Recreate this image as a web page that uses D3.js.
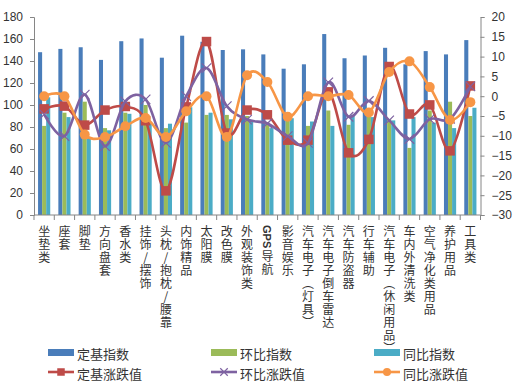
<!DOCTYPE html>
<html>
<head>
<meta charset="utf-8">
<script src="https://cdn.jsdelivr.net/npm/d3@7"></script>
<style>
  body { margin: 0; background: #fff; }
  #chart { width: 514px; height: 383px; }
  text { font-family: "Noto Sans CJK SC", "Liberation Sans", sans-serif; fill: #333; }
</style>
</head>
<body>
<div id="chart"></div>
<script>
const categories = ["坐垫类","座套","脚垫","方向盘套","香水类","挂饰/摆饰","头枕/抱枕/腰靠","内饰精品","太阳膜","改色膜","外观装饰类","GPS导航","影音娱乐","汽车电子（灯具）","汽车电子倒车雷达","汽车防盗器","行车辅助","汽车电子（休闲用品）","车内外清洗类","空气净化类用品","养护用品","工具类"];

// bars, left axis
const baseIndex = [148,151,152.5,141,158,160.5,143,163,157.5,150,150.6,146,133,137,164.5,142.5,145,152,137,149,146,159];
const momIndex  = [81,93,103,79,93,100,79,84,91,91,90,84,86,81,95,82,93,87,61,95,103,90];
const yoyIndex  = [107,89,70,77,92,85,83,98,93,87,86,79,88,85,81,91,89,86,89,84,79,97.5];

// lines, right axis
const baseChange = [-3.2,-2.5,-7.3,-3.5,-2.6,-6.2,-23.9,-2.7,13.8,-9.3,-3.5,-4.7,-11.1,-11.1,1.1,-14.3,-10.9,7.5,-4.5,-2.2,-13.8,2.6];
const momChange  = [-4.6,-10.1,0.4,-12.6,-1.3,-0.8,-11.8,0,7.1,-2.5,-5.9,-6.9,-10.1,-11.8,3.5,-5.2,-1.2,-6.1,-10.8,-5.8,-5.7,2.5];
const yoyChange  = [0,0,-9.7,-10.3,-7.6,-5.5,-10.3,-3.8,0,-10.3,5.3,3.6,-5.2,0,0,0.3,-4.1,6.1,8.8,2.3,-6,-1.5];

const leftTicks = [0,20,40,60,80,100,120,140,160,180];
const rightTicks = [-30,-25,-20,-15,-10,-5,0,5,10,15,20];

const barNames = ["定基指数","环比指数","同比指数"];
const lineNames = ["定基涨跌值","环比涨跌值","同比涨跌值"];
const barColors = ["#4A7DBA","#9BBB59","#4BACC6"];
const lineColors = ["#BE4B48","#7E62A1","#F79646"];

const W = 514, H = 383;
const plotLeft = 34, plotRight = 480.5, plotTop = 17, plotBottom = 215;

const svg = d3.select("#chart").append("svg")
  .attr("width", W).attr("height", H);

const x = d3.scaleBand().domain(categories).range([plotLeft, plotRight]).paddingInner(0).paddingOuter(0);
const xs = d3.scaleBand().domain([0,1,2]).range([0, x.bandwidth()]).paddingInner(0).paddingOuter(1);
const yL = d3.scaleLinear().domain([0,180]).range([plotBottom, plotTop]);
const yR = d3.scaleLinear().domain([-30,20]).range([plotBottom, plotTop]);

// bars
const barSeries = [baseIndex, momIndex, yoyIndex];
barSeries.forEach((vals, s) => {
  svg.append("g").selectAll("rect")
    .data(vals)
    .enter().append("rect")
    .attr("x", (d, i) => x(categories[i]) + xs(s))
    .attr("y", d => yL(d))
    .attr("width", xs.bandwidth())
    .attr("height", d => plotBottom - yL(d))
    .attr("fill", barColors[s]);
});

// axes
const axL = svg.append("g")
  .attr("transform", `translate(${plotLeft},0)`)
  .call(d3.axisLeft(yL).tickValues(leftTicks).tickSize(4).tickPadding(7));
const axR = svg.append("g")
  .attr("transform", `translate(${plotRight},0)`)
  .call(d3.axisRight(yR).tickValues(rightTicks).tickSize(4).tickPadding(7));
[axL, axR].forEach(g => {
  g.select(".domain").attr("stroke", "#868686");
  g.selectAll(".tick line").attr("stroke", "#868686");
  g.selectAll(".tick text")
    .style("font-family", "'Liberation Sans', sans-serif")
    .style("font-size", "12px").attr("fill", "#333");
});

// bottom axis
svg.append("line")
  .attr("x1", plotLeft).attr("x2", plotRight)
  .attr("y1", plotBottom).attr("y2", plotBottom)
  .attr("stroke", "#868686");
const bounds = categories.map(c => x(c)).concat([plotRight]);
svg.append("g").selectAll("line")
  .data(bounds)
  .enter().append("line")
  .attr("x1", d => d).attr("x2", d => d)
  .attr("y1", plotBottom).attr("y2", plotBottom + 5)
  .attr("stroke", "#868686");

// vertical category labels, stacked character by character
const step = 13;
const labelTop = 224;
const lab = svg.append("g").attr("class", "xlabels");
categories.forEach(c => {
  const cx = x(c) + x.bandwidth() / 2;
  let yy = labelTop;
  const tokens = c.match(/[A-Za-z0-9]+|./g);
  tokens.forEach(tok => {
    if (/^[A-Za-z0-9]+$/.test(tok)) {
      const r = lab.append("text")
        .attr("text-anchor", "start")
        .attr("dominant-baseline", "central")
        .style("font-family", "'Liberation Sans', sans-serif")
        .style("font-size", "11px")
        .style("font-weight", "bold")
        .text(tok);
      const len = r.node().getComputedTextLength();
      r.attr("transform", `translate(${cx},${yy + 1}) rotate(90)`);
      yy += len + 2;
    } else {
      let ch = tok;
      if (ch === "（") ch = "︵";
      if (ch === "）") ch = "︶";
      lab.append("text")
        .attr("x", cx)
        .attr("y", yy + step / 2)
        .attr("text-anchor", "middle")
        .attr("dominant-baseline", "central")
        .style("font-size", "12px")
        .text(ch);
      yy += step;
    }
  });
});

// lines
const lineSeries = [baseChange, momChange, yoyChange];
const cxOf = i => x(categories[i]) + x.bandwidth() / 2;
const lineGen = d3.line()
  .x((d, i) => cxOf(i))
  .y(d => yR(d))
  .curve(d3.curveCatmullRom.alpha(0));

function drawMarker(g, kind, px, py, color, size) {
  if (kind === 0) {
    g.append("rect")
      .attr("x", px - size / 2).attr("y", py - size / 2)
      .attr("width", size).attr("height", size)
      .attr("fill", color);
  } else if (kind === 1) {
    const h = size / 2;
    g.append("path")
      .attr("d", `M${px - h},${py - h}L${px + h},${py + h}M${px - h},${py + h}L${px + h},${py - h}`)
      .attr("stroke", color).attr("stroke-width", 1.2).attr("fill", "none");
  } else {
    g.append("circle")
      .attr("cx", px).attr("cy", py).attr("r", size / 2)
      .attr("fill", color);
  }
}

lineSeries.forEach((vals, s) => {
  const g = svg.append("g");
  g.append("path")
    .datum(vals)
    .attr("d", lineGen)
    .attr("fill", "none")
    .attr("stroke", lineColors[s])
    .attr("stroke-width", 2.6);
  vals.forEach((v, i) => drawMarker(g, s, cxOf(i), yR(v), lineColors[s], s === 2 ? 10 : 9.5));
});

// legend
const legX = [48, 211, 374];
const leg = svg.append("g");
barNames.forEach((n, i) => {
  leg.append("rect")
    .attr("x", legX[i]).attr("y", 349)
    .attr("width", 26).attr("height", 7)
    .attr("fill", barColors[i]);
  leg.append("text")
    .attr("x", legX[i] + 29).attr("y", 353)
    .attr("dominant-baseline", "central")
    .style("font-size", "13px")
    .text(n);
});
lineNames.forEach((n, i) => {
  const g = leg.append("g");
  g.append("line")
    .attr("x1", legX[i]).attr("x2", legX[i] + 26)
    .attr("y1", 372).attr("y2", 372)
    .attr("stroke", lineColors[i]).attr("stroke-width", 2.6);
  drawMarker(g, i, legX[i] + 13, 372, lineColors[i], i === 2 ? 8 : 7.5);
  leg.append("text")
    .attr("x", legX[i] + 29).attr("y", 373)
    .attr("dominant-baseline", "central")
    .style("font-size", "13px")
    .text(n);
});
</script>
</body>
</html>
